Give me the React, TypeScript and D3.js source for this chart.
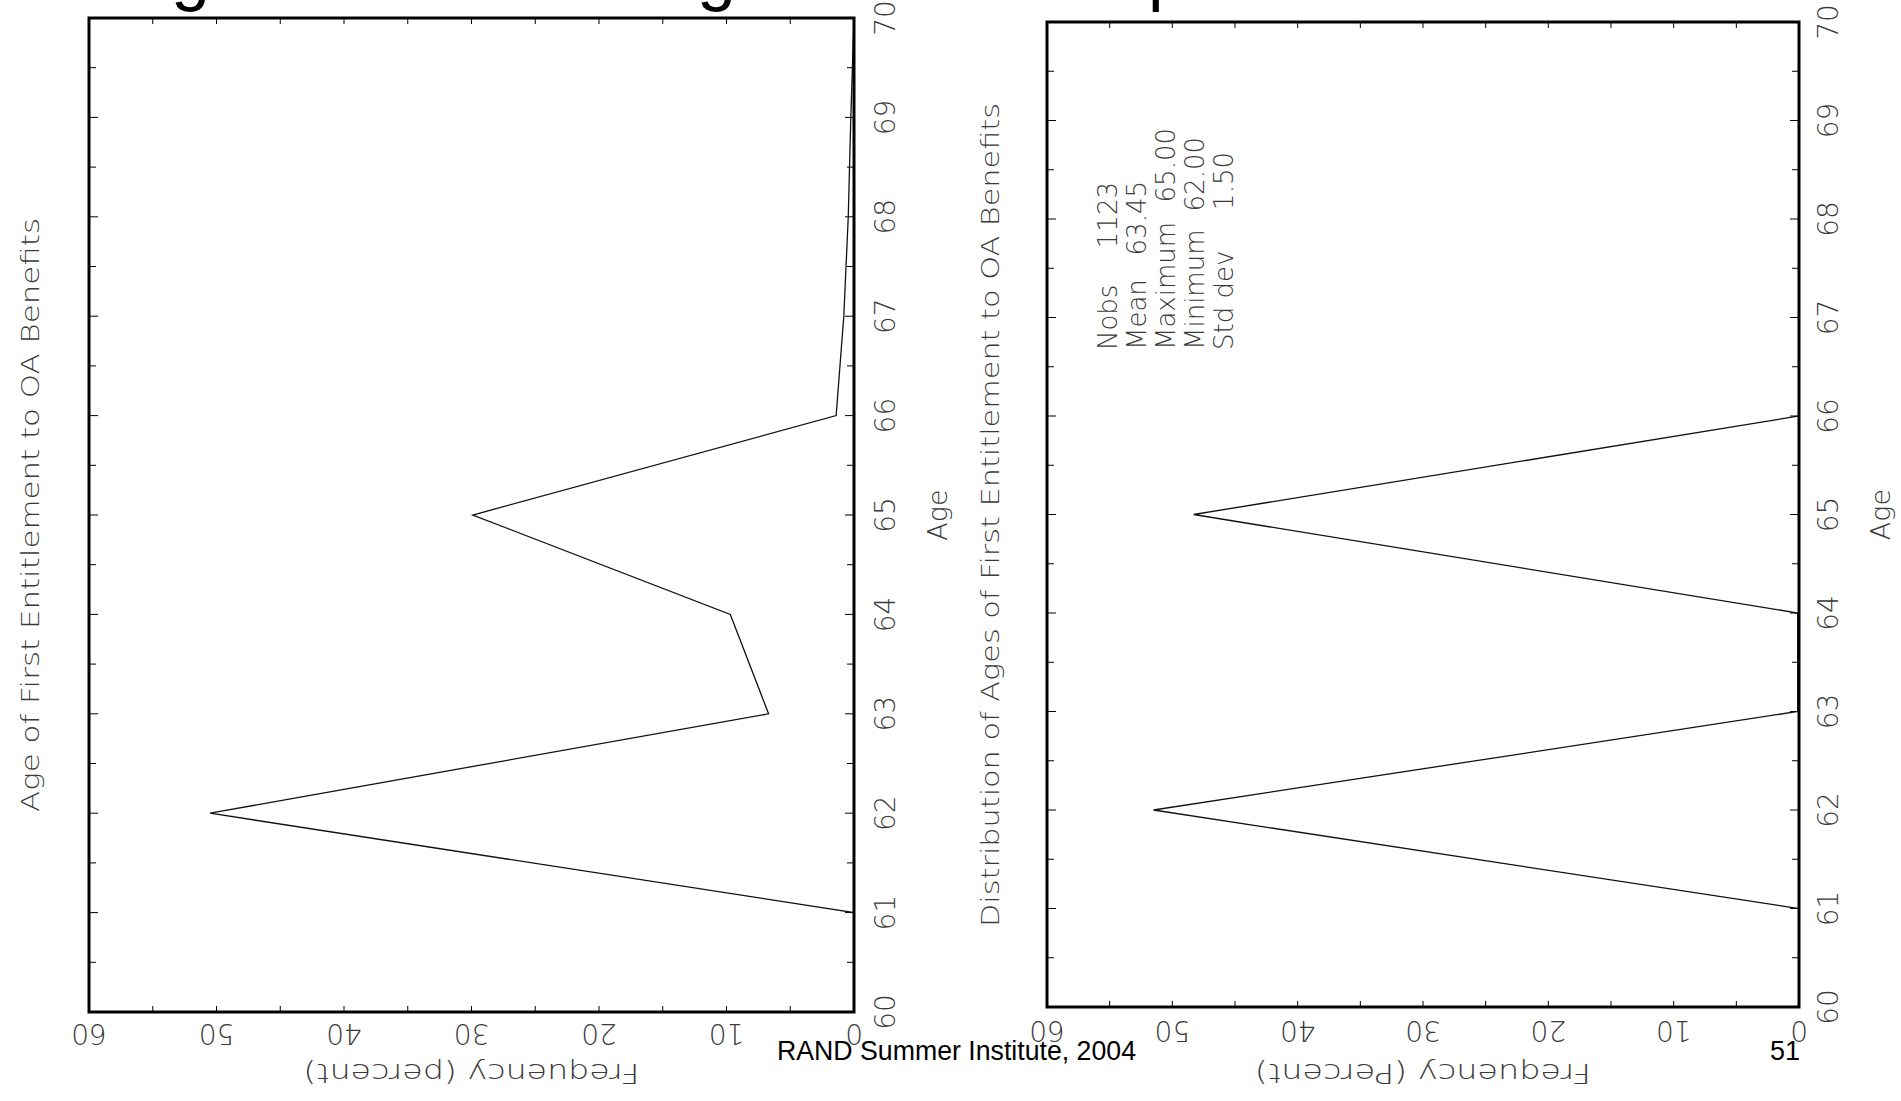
import React from "react";
import * as d3 from "d3";

// ---- data ----
const ages = [60, 61, 62, 63, 64, 65, 66, 67, 68, 69, 70];
const freqLeft = [0, 0, 50.5, 6.7, 9.7, 29.9, 1.4, 0.8, 0.45, 0.25, 0];
const freqRight = [0, 0, 51.5, 0.1, 0.1, 48.3, 0, 0, 0, 0, 0];
const freqTickLabels = [0, 10, 20, 30, 40, 50, 60];
const ageTickLabels = [60, 61, 62, 63, 64, 65, 66, 67, 68, 69, 70];
const statLabels = ["Nobs", "Mean", "Maximum", "Minimum", "Std dev"];
const statValues = ["1123", "63.45", "65.00", "62.00", "1.50"];
const leftTitle = "Age of First Entitlement to OA Benefits";
const rightTitle = "Distribution of Ages of First Entitlement to OA Benefits";
const leftFreqTitle = "Frequency (percent)";
const rightFreqTitle = "Frequency (Percent)";
const ageTitle = "Age";
const footer = "RAND Summer Institute, 2004";
const pageNumber = "51";
const cutTitleGlyphs = ["g", "g", "p"];

// ---- layout ----
const W = 1901;
const H = 1101;
const FONT = "'DejaVu Sans', sans-serif";
const TXT = "#3a3a3a";

type Frame = { x0: number; x1: number; y0: number; y1: number };

const leftFrame: Frame = { x0: 89, x1: 854, y0: 18, y1: 1012 };
const rightFrame: Frame = { x0: 1047, x1: 1799, y0: 22, y1: 1007 };

function Panel(props: {
  f: Frame;
  values: number[];
  freqTitle: string;
  freqLabelY: number;
  ageLabelX: number;
  ageTitleX: number;
  title: string;
  titleX: number;
  titleLen: number;
}) {
  const { f, values } = props;
  const x = d3.scaleLinear().domain([60, 0]).range([f.x0, f.x1]);
  const y = d3.scaleLinear().domain([60, 70]).range([f.y1, f.y0]);
  const line = d3
    .line<number>()
    .x((d) => x(d))
    .y((_d, i) => y(ages[i]));
  const fTicks = d3.range(0, 61, 5);
  const aTicks = d3.range(60, 70.001, 0.5);
  const midY = (f.y0 + f.y1) / 2;
  const midX = (f.x0 + f.x1) / 2;
  return (
    <g>
      {fTicks.map((t) => (
        <g key={"ft" + t}>
          <line x1={x(t)} x2={x(t)} y1={f.y0} y2={f.y0 + 6} stroke="#000" strokeWidth={1} />
          <line x1={x(t)} x2={x(t)} y1={f.y1} y2={f.y1 - 6} stroke="#000" strokeWidth={1} />
        </g>
      ))}
      {aTicks.map((t) => {
        const len = Number.isInteger(t) ? 9 : 7;
        return (
          <g key={"at" + t}>
            <line x1={f.x0} x2={f.x0 + len} y1={y(t)} y2={y(t)} stroke="#000" strokeWidth={1} />
            <line x1={f.x1} x2={f.x1 - len} y1={y(t)} y2={y(t)} stroke="#000" strokeWidth={1} />
          </g>
        );
      })}
      <path d={line(values) || ""} fill="none" stroke="#111" strokeWidth={1.3} />
      <rect
        x={f.x0}
        y={f.y0}
        width={f.x1 - f.x0}
        height={f.y1 - f.y0}
        fill="none"
        stroke="#000"
        strokeWidth={3}
      />
      {freqTickLabels.map((t) => (
        <text
          key={"fl" + t}
          transform={`translate(${x(t)},${props.freqLabelY}) rotate(180)`}
          textAnchor="middle"
          dominantBaseline="central"
          fontFamily={FONT}
          fontWeight={200}
          fontSize={28}
          fill={TXT}
        >
          {t}
        </text>
      ))}
      <text
        transform={`translate(${midX},1073) rotate(180)`}
        textAnchor="middle"
        dominantBaseline="central"
        fontFamily={FONT}
        fontWeight={200}
        fontSize={26}
        fill={TXT}
        textLength={336}
        lengthAdjust="spacingAndGlyphs"
      >
        {props.freqTitle}
      </text>
      {ageTickLabels.map((t) => (
        <text
          key={"al" + t}
          transform={`translate(${props.ageLabelX},${y(t)}) rotate(-90)`}
          textAnchor="middle"
          dominantBaseline="central"
          fontFamily={FONT}
          fontWeight={200}
          fontSize={28}
          fill={TXT}
        >
          {t}
        </text>
      ))}
      <text
        transform={`translate(${props.ageTitleX},${midY}) rotate(-90)`}
        textAnchor="middle"
        dominantBaseline="central"
        fontFamily={FONT}
        fontWeight={200}
        fontSize={27}
        fill={TXT}
      >
        {ageTitle}
      </text>
      <text
        transform={`translate(${props.titleX},515) rotate(-90)`}
        textAnchor="middle"
        dominantBaseline="central"
        fontFamily={FONT}
        fontWeight={200}
        fontSize={25}
        fill={TXT}
        textLength={props.titleLen}
        lengthAdjust="spacingAndGlyphs"
      >
        {props.title}
      </text>
    </g>
  );
}

const statX = [1108, 1137, 1166, 1195, 1224];
const statValueTop = [182, 181, 128, 137, 152];

export default function App() {
  return (
    <svg
      width={W}
      height={H}
      viewBox={`0 0 ${W} ${H}`}
      style={{ position: "absolute", left: 0, top: 0, display: "block", background: "#fff" }}
    >
      <rect x={0} y={0} width={W} height={H} fill="#fff" />
      {cutTitleGlyphs.map((g, i) => (
        <text
          key={"cg" + i}
          x={[171, 697, 1148][i]}
          y={-3}
          fontFamily="'Liberation Sans', Arial, sans-serif"
          fontSize={70}
          fill="#000"
        >
          {g}
        </text>
      ))}
      <Panel
        f={leftFrame}
        values={freqLeft}
        freqTitle={leftFreqTitle}
        freqLabelY={1033}
        ageLabelX={885}
        ageTitleX={937}
        title={leftTitle}
        titleX={30}
        titleLen={594}
      />
      <Panel
        f={rightFrame}
        values={freqRight}
        freqTitle={rightFreqTitle}
        freqLabelY={1030}
        ageLabelX={1828}
        ageTitleX={1880}
        title={rightTitle}
        titleX={990}
        titleLen={824}
      />
      {statLabels.map((s, i) => (
        <g key={"st" + i}>
          <text
            transform={`translate(${statX[i]},350) rotate(-90)`}
            textAnchor="start"
            dominantBaseline="central"
            fontFamily={FONT}
            fontWeight={200}
            fontSize={26}
            fill={TXT}
          >
            {s}
          </text>
          <text
            transform={`translate(${statX[i]},${statValueTop[i]}) rotate(-90)`}
            textAnchor="end"
            dominantBaseline="central"
            fontFamily={FONT}
            fontWeight={200}
            fontSize={26}
            fill={TXT}
          >
            {statValues[i]}
          </text>
        </g>
      ))}
      <text
        x={777}
        y={1060}
        fontFamily="'Liberation Sans', Arial, sans-serif"
        fontSize={27}
        fill="#000"
        textLength={359}
        lengthAdjust="spacingAndGlyphs"
      >
        {footer}
      </text>
      <text
        x={1800}
        y={1060}
        textAnchor="end"
        fontFamily="'Liberation Sans', Arial, sans-serif"
        fontSize={27}
        fill="#000"
      >
        {pageNumber}
      </text>
    </svg>
  );
}
